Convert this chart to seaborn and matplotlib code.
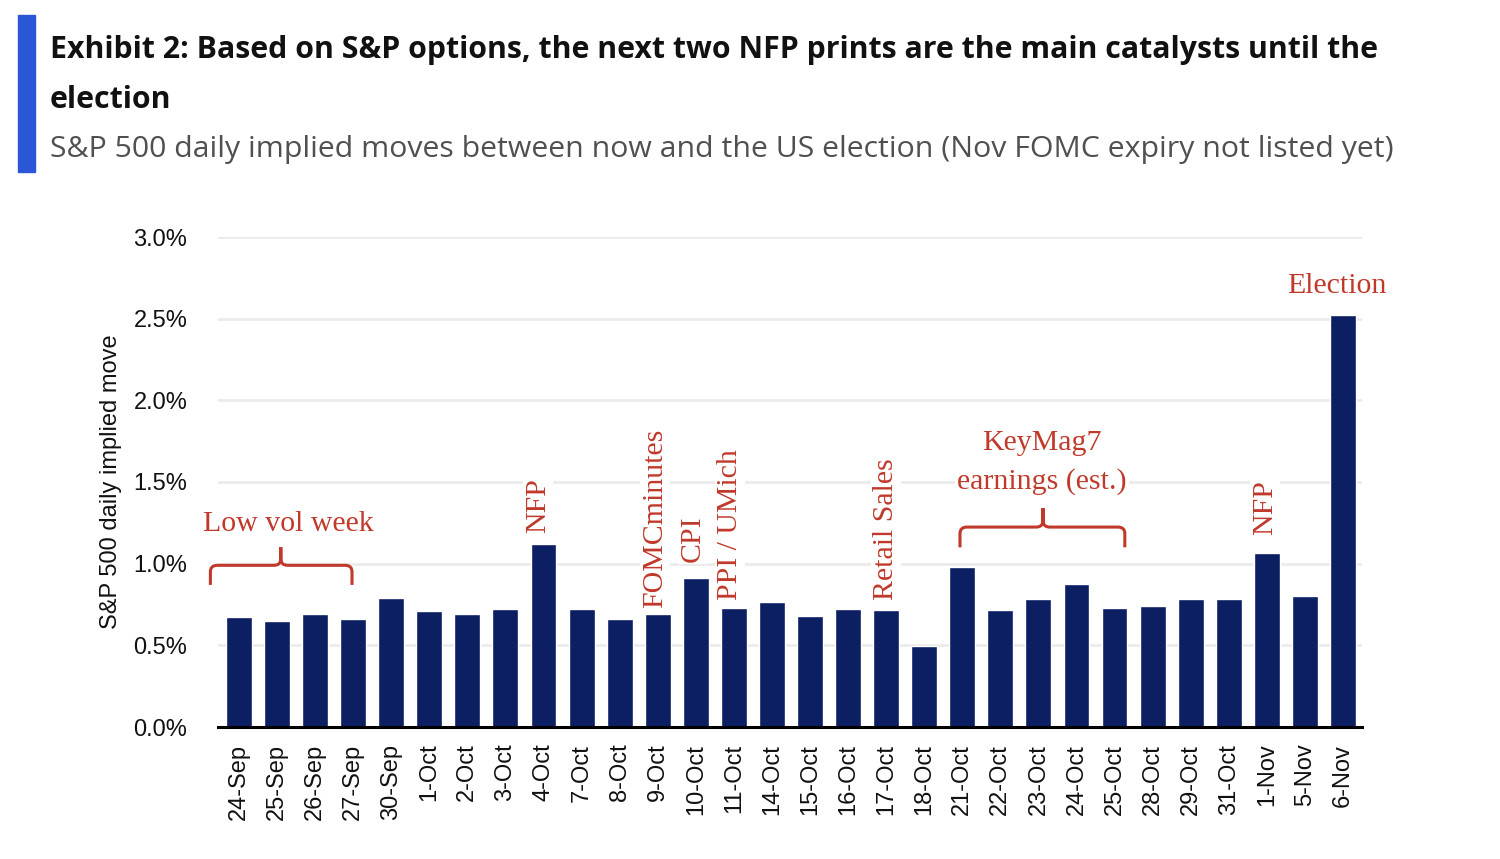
import numpy as np
import pandas as pd
import matplotlib
matplotlib.use("Agg")
import matplotlib.pyplot as plt
import seaborn as sns
from matplotlib.patches import Rectangle, PathPatch
from matplotlib.path import Path
from matplotlib.ticker import FuncFormatter

# ---------------- data ----------------
dates = ["24-Sep", "25-Sep", "26-Sep", "27-Sep", "30-Sep", "1-Oct", "2-Oct", "3-Oct",
         "4-Oct", "7-Oct", "8-Oct", "9-Oct", "10-Oct", "11-Oct", "14-Oct", "15-Oct",
         "16-Oct", "17-Oct", "18-Oct", "21-Oct", "22-Oct", "23-Oct", "24-Oct", "25-Oct",
         "28-Oct", "29-Oct", "31-Oct", "1-Nov", "5-Nov", "6-Nov"]
implied_move = [0.675, 0.649, 0.690, 0.661, 0.791, 0.710, 0.690, 0.720,
                1.120, 0.720, 0.659, 0.690, 0.914, 0.726, 0.765, 0.681,
                0.722, 0.716, 0.496, 0.981, 0.716, 0.781, 0.877, 0.728,
                0.742, 0.783, 0.783, 1.067, 0.804, 2.520]
ytick_values = [0.0, 0.5, 1.0, 1.5, 2.0, 2.5, 3.0]
event_labels = ["NFP", "FOMCminutes", "CPI", "PPI / UMich", "Retail Sales", "NFP"]
event_dates = ["4-Oct", "9-Oct", "10-Oct", "11-Oct", "17-Oct", "1-Nov"]
title_line1 = "Exhibit 2: Based on S&P options, the next two NFP prints are the main catalysts until the"
title_line2 = "election"
subtitle = "S&P 500 daily implied moves between now and the US election (Nov FOMC expiry not listed yet)"
ylabel = "S&P 500 daily implied move"

# ---------------- style ----------------
NAVY = "#0B1F62"
RED = "#C0392B"
GRID = "#ebebeb"
sns.set_theme(style="white")
plt.rcParams["font.family"] = ["Liberation Sans", "DejaVu Sans"]
SERIF = ["Liberation Serif", "DejaVu Serif"]
TITLE_FONT = ["Liberation Sans Narrow", "Open Sans", "DejaVu Sans"]

W, H = 1500, 859
fig = plt.figure(figsize=(15, 8.59), dpi=100)
fig.patch.set_facecolor("white")

ax = fig.add_axes([218 / W, 132 / H, 1144 / W, 490 / H])
df = pd.DataFrame({"date": dates, "move": implied_move})
sns.barplot(data=df, x="date", y="move", order=dates, color=NAVY, saturation=1,
            width=0.68, ax=ax, zorder=2)

ax.set_ylim(0, 3.0)
ax.set_xlim(-0.55, 29.5)
ax.set_yticks(ytick_values)
ax.yaxis.set_major_formatter(FuncFormatter(lambda v, p: f"{v:.1f}%"))
ax.yaxis.grid(True, color=GRID, lw=2)
ax.xaxis.grid(False)
ax.set_axisbelow(True)
for s in ["top", "right", "left"]:
    ax.spines[s].set_visible(False)
ax.spines["bottom"].set_color("black")
ax.spines["bottom"].set_linewidth(2.2)
ax.spines["bottom"].set_zorder(5)
ax.tick_params(axis="x", length=0, pad=12, labelsize=17, rotation=90, colors="#111111")
ax.tick_params(axis="y", length=0, pad=22, labelsize=17, colors="#111111")
ax.set_xlabel("")
ax.set_ylabel(ylabel, fontsize=17, labelpad=8, color="#111111")

# ---------------- annotations ----------------
pos = {d: i for i, d in enumerate(dates)}
box = dict(facecolor="white", edgecolor="none", pad=1.5)
tkw = dict(color=RED, fontsize=21.5, family=SERIF, zorder=3)

event_offsets = [-0.15, -0.07, -0.07, -0.1, 0.0, -0.05]
event_bottoms = [1.19, 0.73, 1.01, 0.777, 0.777, 1.175]
for lab, d, dx, yb in zip(event_labels, event_dates, event_offsets, event_bottoms):
    ax.text(pos[d] + dx, yb, lab, rotation=90, ha="center", va="bottom",
            bbox=box, **tkw)

ax.text(1.29, 1.24, "Low vol week", ha="center", va="center", bbox=box, **tkw)
ax.text(21.1, 1.74, "KeyMag7", ha="center", va="center", bbox=box, **tkw)
ax.text(21.1, 1.50, "earnings (est.)", ha="center", va="center", bbox=box, **tkw)
ax.text(pos["6-Nov"] - 0.15, 2.70, "Election", ha="center", va="center", bbox=box, **tkw)


def brace(x0, x1, xc, y_end, y_mid, y_tip, rx=0.18, ry=0.04):
    verts, codes = [], []
    for xe, sgn in ((x0, 1), (x1, -1)):
        verts += [(xe, y_end), (xe, y_mid - ry), (xe, y_mid), (xe + sgn * rx, y_mid),
                  (xc - sgn * rx, y_mid), (xc, y_mid), (xc, y_mid + ry), (xc, y_tip)]
        codes += [Path.MOVETO, Path.LINETO, Path.CURVE3, Path.CURVE3,
                  Path.LINETO, Path.CURVE3, Path.CURVE3, Path.LINETO]
    p = PathPatch(Path(verts, codes), fill=False, edgecolor=RED, lw=2.2,
                  zorder=3, capstyle="butt")
    p.set_clip_on(False)
    ax.add_patch(p)


brace(-0.75, 2.97, 1.1, 0.87, 0.99, 1.10)
brace(18.94, 23.27, 21.12, 1.10, 1.224, 1.34)

# ---------------- header ----------------
fig.patches.append(Rectangle((18 / W, 1 - 172 / H), 17 / W, 157 / H,
                             transform=fig.transFigure, color="#2B56D6", zorder=5))

renderer = fig.canvas.get_renderer()


def fit_text(x, y, s, target_w, **kw):
    t = fig.text(x, y, s, **kw)
    w = t.get_window_extent(renderer).width
    t.set_fontsize(t.get_fontsize() * target_w / w)
    return t


t1 = fit_text(50 / W, 1 - 58 / H, title_line1, 1330, fontsize=24, fontweight="bold",
              family=TITLE_FONT, color="#111111", va="baseline", ha="left")
fig.text(50 / W, 1 - 108 / H, title_line2, fontsize=t1.get_fontsize(), fontweight="bold",
         family=TITLE_FONT, color="#111111", va="baseline", ha="left")
fit_text(50 / W, 1 - 157 / H, subtitle, 1342, fontsize=24, family=TITLE_FONT,
         color="#505050", va="baseline", ha="left")

fig.savefig("out.png", dpi=100, facecolor="white")
